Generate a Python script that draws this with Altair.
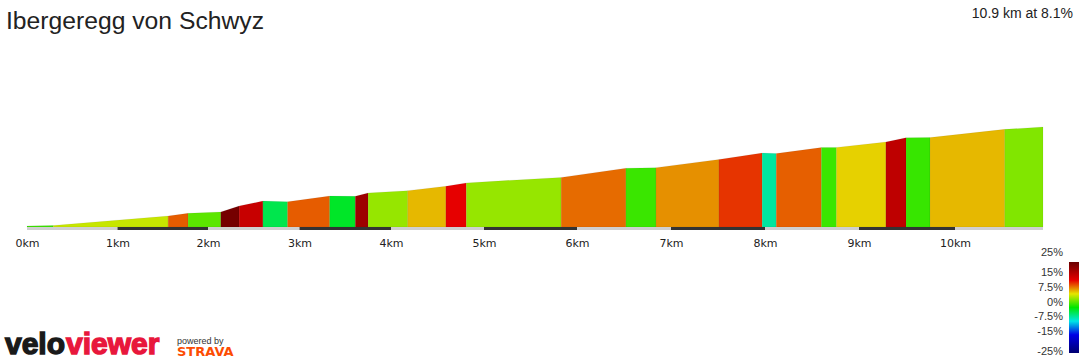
import altair as alt
import pandas as pd

TITLE = "Ibergeregg von Schwyz"
SUMMARY = "10.9 km at 8.1%"
LOGO_A = "velo"
LOGO_B = "viewer"
POWERED = "powered by"
STRAVA = "STRAVA"

# segment boundaries (km) and elevation (m) at each boundary
boundary_km = [0, 0.29, 1.56, 1.78, 2.14, 2.34, 2.60, 2.87, 3.33, 3.61, 3.75, 4.18,
               4.59, 4.81, 5.83, 6.52, 6.84, 7.51, 7.97, 8.12, 8.60, 8.76, 9.28,
               9.49, 9.74, 10.52, 10.92]
boundary_elev = [509, 513, 598, 622, 634, 687, 731, 725, 776, 773, 803, 824,
                 863, 893, 942, 1024, 1029, 1102, 1159, 1154, 1208, 1209, 1257,
                 1296, 1297, 1370, 1391]
# gradient (%) of each segment
segment_grade = [2, 6.5, 12, 3, 24, 17.5, -2.5, 12, -1.3, 20.8, 4.9, 9, 15, 4.9,
                 11.5, 1.9, 10.3, 13.3, -5.2, 11.9, 1.9, 8.2, 18.2, 1.8, 9, 4.2]
base_elev = 500

km_ticks = [0, 1, 2, 3, 4, 5, 6, 7, 8, 9, 10]
legend_values = [25, 15, 7.5, 0, -7.5, -15, -25]
grade_stops = [-25, -15, -7.5, 0, 7.5, 15, 25]
grade_colors = ["#000070", "#0000e6", "#00e6e6", "#00e600", "#e6e600", "#e60000", "#680000"]

rows = []
for i, g in enumerate(segment_grade):
    for j in (i, i + 1):
        rows.append({"seg": i, "km": boundary_km[j], "elev": boundary_elev[j],
                     "base": base_elev, "grade": g})
seg_df = pd.DataFrame(rows)

band_start = km_ticks
band_end = km_ticks[1:] + [boundary_km[-1]]
band_df = pd.DataFrame({
    "start": band_start,
    "end": band_end,
    "shade": ["light" if k % 2 == 0 else "dark" for k in km_ticks],
})

# piecewise x scale (the profile's km ticks are not evenly spaced)
x_domain = km_ticks + [boundary_km[-1]]
x_range = [27, 117.5, 208, 299.5, 391, 484, 577, 671, 765, 859, 955, 1043]
xscale = alt.Scale(domain=x_domain, range=x_range)
yscale = alt.Scale(domain=[500, 1400], range=[227, 126])
color_scale = alt.Scale(domain=grade_stops, range=grade_colors, interpolate="rgb")

area = alt.Chart(seg_df).mark_area(
    interpolate="linear", stroke="#000000", strokeWidth=0.5, strokeOpacity=0.12
).encode(
    x=alt.X("km:Q", scale=xscale,
            axis=alt.Axis(values=km_ticks, labelExpr="datum.value + 'km'",
                          domain=False, ticks=False, grid=False, title=None,
                          labelFont="DejaVu Sans", labelFontSize=11,
                          labelColor="#222", labelPadding=7, labelFlush=False,
                          labelOverlap=False)),
    y=alt.Y("elev:Q", scale=yscale, axis=None),
    y2="base:Q",
    color=alt.Color("grade:Q", scale=color_scale, legend=None),
    detail="seg:N",
)

bands = alt.Chart(band_df).mark_rect().encode(
    x=alt.X("start:Q", scale=xscale),
    x2="end:Q",
    y=alt.value(227),
    y2=alt.value(230),
    fill=alt.Fill("shade:N", scale=alt.Scale(domain=["light", "dark"], range=["#cfcfcf", "#333333"]),
                  legend=None),
)

# colour key: gradient bar built from the same colour stops
gradient_fill = {
    "gradient": "linear", "x1": 0, "y1": 0, "x2": 0, "y2": 1,
    "stops": [{"offset": (25 - g) / 50, "color": c}
              for g, c in sorted(zip(grade_stops, grade_colors), key=lambda t: -t[0])],
}
key_bar = alt.Chart(alt.Data(values=[{"k": 1}])).mark_rect(color=gradient_fill).encode(
    x=alt.value(1069), x2=alt.value(1079), y=alt.value(262), y2=alt.value(353))

key_labels = alt.Chart(pd.DataFrame({"v": legend_values})).mark_text(
    align="right", baseline="middle", font="Liberation Sans", fontSize=11, color="#333",
).encode(
    x=alt.value(1063),
    y=alt.Y("v:Q", scale=alt.Scale(domain=[-25, 25], range=[352, 253]), axis=None),
    text=alt.Text("label:N"),
).transform_calculate(label="datum.v + '%'")


def text_layer(txt, x, y, size, color, font="Liberation Sans", weight="normal",
               align="left", stroke_w=0):
    props = dict(align=align, baseline="alphabetic", font=font, fontSize=size,
                 fontWeight=weight, color=color)
    if stroke_w:
        props.update(stroke=color, strokeWidth=stroke_w)
    return alt.Chart(alt.Data(values=[{"t": txt}])).mark_text(**props).encode(
        x=alt.value(x), y=alt.value(y), text="t:N")


title = text_layer(TITLE, 6, 29, 24.7, "#222")
summary = text_layer(SUMMARY, 1073, 18, 14, "#222", align="right")
logo_a = text_layer(LOGO_A, 5, 354, 30, "#1a1a1a", weight="bold", stroke_w=1.4)
logo_b = text_layer(LOGO_B, 66, 354, 30, "#e8173c", weight="bold", stroke_w=1.4)
powered = text_layer(POWERED, 177, 344, 9, "#333")
strava = text_layer(STRAVA, 177, 356, 13, "#fc4c02", font="DejaVu Sans", weight="bold")

chart = alt.layer(area, bands, key_bar, key_labels, title, summary, logo_a, logo_b,
                  powered, strava).resolve_scale(y="independent").properties(
    width=1080, height=230,
    autosize=alt.AutoSizeParams(type="none"),
    padding={"left": 0, "top": 0, "right": 0, "bottom": 130},
    background="white",
).configure_view(stroke="transparent")

chart.save("out.html", embed_options={"renderer": "svg", "actions": False})
